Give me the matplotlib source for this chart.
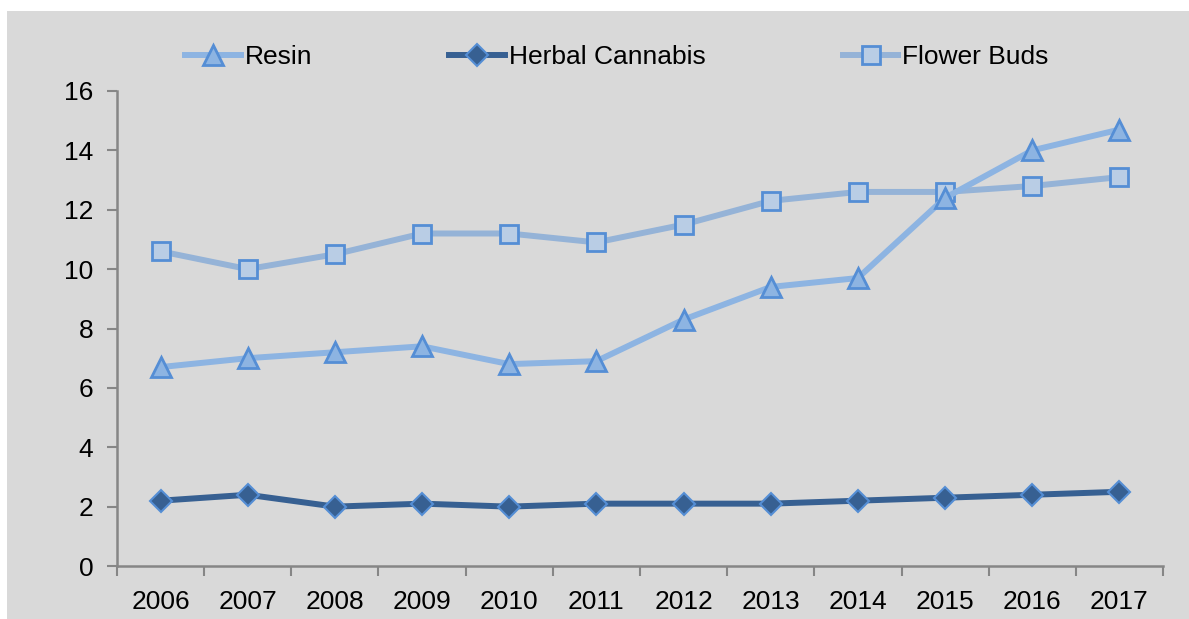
import matplotlib.pyplot as plt
from matplotlib.patches import Rectangle

# data
years = ['2006', '2007', '2008', '2009', '2010', '2011',
         '2012', '2013', '2014', '2015', '2016', '2017']
resin = [6.7, 7.0, 7.2, 7.4, 6.8, 6.9, 8.3, 9.4, 9.7, 12.4, 14.0, 14.7]
herbal = [2.2, 2.4, 2.0, 2.1, 2.0, 2.1, 2.1, 2.1, 2.2, 2.3, 2.4, 2.5]
flower = [10.6, 10.0, 10.5, 11.2, 11.2, 10.9, 11.5, 12.3, 12.6, 12.6, 12.8, 13.1]
y_ticks = [0, 2, 4, 6, 8, 10, 12, 14, 16]

plt.rcParams['font.family'] = ['Liberation Sans', 'DejaVu Sans']

fig = plt.figure(figsize=(11.89, 6.19), dpi=100)
fig.patch.set_facecolor('white')
# grauer Hintergrund
fig.add_artist(Rectangle((7 / 1189, 0), 1 - 7 / 1189, 1 - 11 / 619,
                         transform=fig.transFigure, facecolor='#d9d9d9',
                         edgecolor='none', zorder=-5))

ax = fig.add_axes([117 / 1189, 1 - 566 / 619, (1163 - 117) / 1189, (566 - 91) / 619])
ax.set_facecolor('none')
ax.set_zorder(2)

x = list(range(len(years)))
edge = '#558ed5'
ax.plot(x, resin, color='#8db4e2', lw=4.3, marker='^', ms=14.5,
        mfc='#8db4e2', mec=edge, mew=2, zorder=3, label='Resin')
ax.plot(x, herbal, color='#376092', lw=4.3, marker='D', ms=11.5,
        mfc='#376092', mec=edge, mew=1.5, zorder=3, label='Herbal Cannabis')
ax.plot(x, flower, color='#95b3d7', lw=4.3, marker='s', ms=13.5,
        mfc='#b9cde5', mec=edge, mew=2, zorder=2, label='Flower Buds')

ax.set_xlim(-0.5, len(years) - 0.5)
ax.set_ylim(0, 16)
ax.set_yticks(y_ticks)
ax.set_xticks(x)
ax.set_xticklabels(years)
ax.set_xticks([i - 0.5 for i in range(len(years) + 1)], minor=True)

for s in ['top', 'right']:
    ax.spines[s].set_visible(False)
for s in ['left', 'bottom']:
    ax.spines[s].set_color('#868686')
    ax.spines[s].set_linewidth(1.8)

ax.tick_params(axis='y', length=7, width=1.5, color='#868686', pad=10, labelsize=19)
ax.tick_params(axis='x', which='major', length=0, pad=17, labelsize=19)
ax.tick_params(axis='x', which='minor', length=7, width=1.5, color='#868686')

# Legende oben
fig.legend(loc='center', bbox_to_anchor=(617 / 1189, 1 - 57 / 619), ncol=3,
           frameon=False, fontsize=19, handlelength=2.1, handletextpad=0.15,
           columnspacing=5.2, borderaxespad=0, borderpad=0)

fig.savefig('out.png', dpi=100)
